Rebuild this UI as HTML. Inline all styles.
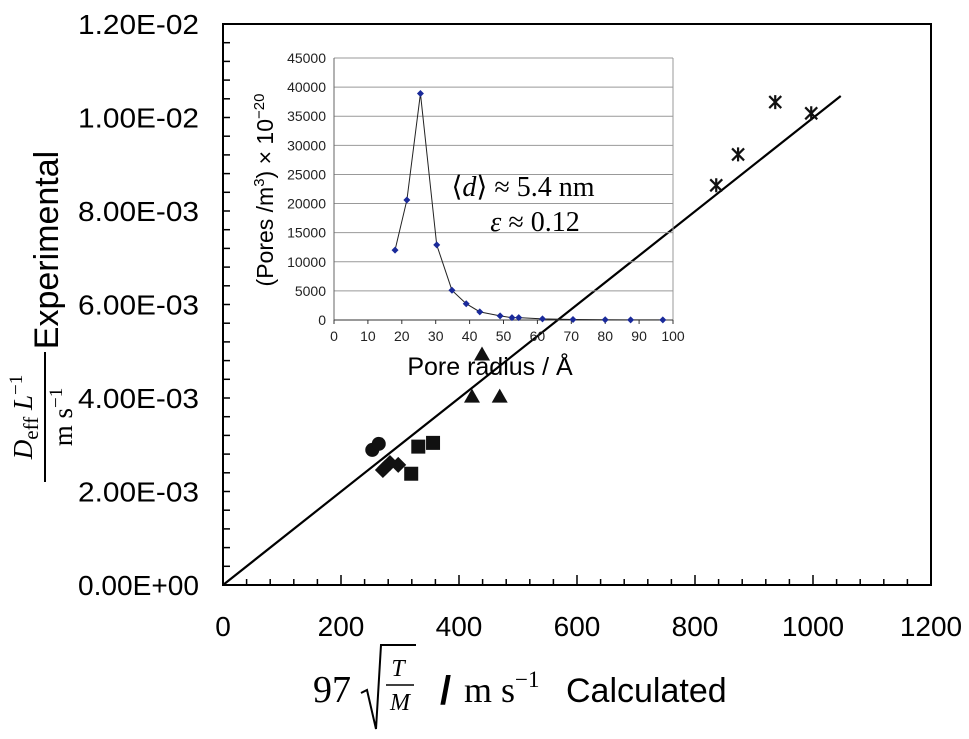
<!DOCTYPE html>
<html><head><meta charset="utf-8"><style>
html,body{margin:0;padding:0;background:#fff;}
svg{display:block;}
text{font-family:"Liberation Sans",Arial,sans-serif;}
.serif{font-family:"Liberation Serif","DejaVu Serif",serif;}
</style></head><body>
<svg id="chart" width="969" height="739" viewBox="0 0 969 739" xmlns="http://www.w3.org/2000/svg">
<g id="main"></g>
<g id="inset"></g>
<g transform="translate(42,330) rotate(-90)">
  <text x="80" y="16" font-size="34" text-anchor="middle">Experimental</text>
  <line x1="-152" y1="3" x2="-22" y2="3" stroke="#000" stroke-width="2"/>
  <text x="-87" y="-10" class="serif" font-size="27" text-anchor="middle" font-style="italic">D<tspan font-style="normal" font-size="21" dy="6">eff</tspan><tspan dy="-6"> L</tspan><tspan font-style="normal" font-size="19" dy="-10">−1</tspan></text>
  <text x="-87" y="30" class="serif" font-size="27" text-anchor="middle">m s<tspan font-size="19" dy="-10">−1</tspan></text>
</g>
<g>
  <text x="313" y="702" class="serif" font-size="38">97</text>
  <polyline points="361,693 367,690 376,729 381,645 416,645" fill="none" stroke="#000" stroke-width="2"/>
  <text x="398" y="676" class="serif" font-size="24" font-style="italic" text-anchor="middle">T</text>
  <line x1="386" y1="685" x2="414" y2="685" stroke="#000" stroke-width="1.5"/>
  <text x="400" y="710" class="serif" font-size="24" font-style="italic" text-anchor="middle">M</text>
  <text x="440" y="704" font-size="40" font-weight="bold">/</text>
  <text x="464" y="702" class="serif" font-size="36">m s<tspan font-size="23" dy="-15">−1</tspan></text>
  <text x="566" y="702" font-size="34">Calculated</text>
</g>
</svg>
<script>
// Main chart data
const circleX=[253,264];
const circleY=[0.00289,0.00302];
const diamondX=[271,275,283,297];
const diamondY=[0.00246,0.00251,0.00261,0.00257];
const squareX=[319,331,356];
const squareY=[0.00238,0.00296,0.00304];
const triangleX=[422,439,469];
const triangleY=[0.00403,0.00493,0.00403];
const starX=[836,873,936,997];
const starY=[0.00855,0.00921,0.01033,0.01009];
const fitX=[0,1047];
const fitY=[0,0.01046];
const xTicks=[0,200,400,600,800,1000,1200];
const yTicks=[0,0.002,0.004,0.006,0.008,0.010,0.012];
const yTickLabels=["0.00E+00","2.00E-03","4.00E-03","6.00E-03","8.00E-03","1.00E-02","1.20E-02"];
// Inset data
const poreR=[18,21.5,25.5,30.3,34.8,39,43,49,52.5,54.5,61.5,70.5,80,87.5,97];
const poreN=[12000,20600,38900,12900,5100,2800,1400,700,400,400,200,80,50,30,20];
const insetXTicks=[0,10,20,30,40,50,60,70,80,90,100];
const insetYTicks=[0,5000,10000,15000,20000,25000,30000,35000,40000,45000];

const NS="http://www.w3.org/2000/svg";
function mk(tag,attrs,parent){const e=document.createElementNS(NS,tag);for(const k in attrs)e.setAttribute(k,attrs[k]);parent.appendChild(e);return e;}
const X0=223,X1=931,Y0=585,Y1=24;
const sx=v=>X0+(v/1200)*(X1-X0);
const sy=v=>Y0-(v/0.012)*(Y0-Y1);
const main=document.getElementById('main');
let r=mk('rect',{x:X0,y:Y1,width:X1-X0,height:Y0-Y1,fill:'none',stroke:'#000','stroke-width':2},main);


for(let v=0;v<=1200.1;v+=40){const x=sx(v);const major=Math.abs(v%200)<0.01;mk('line',{x1:x,y1:Y0,x2:x,y2:Y0-(major?10:6),stroke:'#000','stroke-width':1.5},main);}
for(let v=0;v<=0.01201;v+=0.0004){const y=sy(v);mk('line',{x1:X0,y1:y,x2:X0+7,y2:y,stroke:'#000','stroke-width':1.5},main);}
xTicks.forEach(v=>{const t=mk('text',{x:sx(v),y:636,'font-size':28,'text-anchor':'middle'},main);t.textContent=v;

});
yTicks.forEach((v,i)=>{const t=mk('text',{x:199,y:sy(v)+10,'font-size':28,'text-anchor':'end',textLength:121,lengthAdjust:'spacingAndGlyphs'},main);t.textContent=yTickLabels[i];

});
let fl=mk('line',{x1:sx(fitX[0]),y1:sy(fitY[0]),x2:sx(fitX[1]),y2:sy(fitY[1]),stroke:'#000','stroke-width':2.2},main);


circleX.forEach((v,i)=>{const c=mk('circle',{cx:sx(v),cy:sy(circleY[i]),r:7,fill:'#111'},main);

});
diamondX.forEach((v,i)=>{const x=sx(v),y=sy(diamondY[i]);const d=mk('polygon',{points:`${x},${y-8} ${x+8},${y} ${x},${y+8} ${x-8},${y}`,fill:'#111'},main);

});
squareX.forEach((v,i)=>{const x=sx(v),y=sy(squareY[i]);const s=mk('rect',{x:x-7,y:y-7,width:14,height:14,fill:'#111'},main);

});
triangleX.forEach((v,i)=>{const x=sx(v),y=sy(triangleY[i]);const s=mk('polygon',{points:`${x},${y-8} ${x+8},${y+6} ${x-8},${y+6}`,fill:'#111'},main);

});
starX.forEach((v,i)=>{const x=sx(v),y=sy(starY[i]);const g=mk('path',{d:`M${x-6},${y-6}L${x+6},${y+6}M${x-6},${y+6}L${x+6},${y-6}M${x},${y-7}L${x},${y+7}`,stroke:'#111','stroke-width':2.2,fill:'none'},main);

});

// Inset
const ix0=334,ix1=673,iy0=320,iy1=58;
const ix=v=>ix0+(v/100)*(ix1-ix0);
const iy=v=>iy0-(v/45000)*(iy0-iy1);
const ins=document.getElementById('inset');
insetYTicks.forEach(v=>{mk('line',{x1:ix0,y1:iy(v),x2:ix1,y2:iy(v),stroke:'#999','stroke-width':1},ins);
const t=mk('text',{x:ix0-8,y:iy(v)+5,'font-size':14,'text-anchor':'end',fill:'#222'},ins);t.textContent=v;

});
mk('line',{x1:ix1,y1:iy1,x2:ix1,y2:iy0,stroke:'#999','stroke-width':1},ins);
mk('line',{x1:ix0,y1:iy1,x2:ix0,y2:iy0,stroke:'#666','stroke-width':1},ins);
mk('line',{x1:ix0,y1:iy0,x2:ix1,y2:iy0,stroke:'#333','stroke-width':1},ins);
insetXTicks.forEach(v=>{mk('line',{x1:ix(v),y1:iy0,x2:ix(v),y2:iy0+4,stroke:'#333'},ins);
const t=mk('text',{x:ix(v),y:341,'font-size':14,'text-anchor':'middle',fill:'#222'},ins);t.textContent=v;

});
let pl=mk('polyline',{points:poreR.map((v,i)=>ix(v)+','+iy(poreN[i])).join(' '),fill:'none',stroke:'#222','stroke-width':1},ins);


poreR.forEach((v,i)=>{const x=ix(v),y=iy(poreN[i]);const d=mk('polygon',{points:`${x},${y-3.5} ${x+3.5},${y} ${x},${y+3.5} ${x-3.5},${y}`,fill:'#1a2a9a'},ins);

});
let it=mk('text',{x:490,y:375,'font-size':25,'text-anchor':'middle'},ins);it.textContent='Pore radius / Å';


let yt=mk('text',{x:0,y:0,'font-size':23,'text-anchor':'middle',transform:'translate(273,190) rotate(-90)'},ins);
yt.innerHTML='(Pores /m<tspan font-size="15" dy="-9">3</tspan><tspan dy="9">) × 10</tspan><tspan font-size="15" dy="-9">−20</tspan>';


let a1=mk('text',{x:523,y:196,'font-size':28,'text-anchor':'middle',class:'serif'},ins);a1.innerHTML='⟨<tspan font-style="italic">d</tspan>⟩ ≈ 5.4 nm';


let a2=mk('text',{x:535,y:231,'font-size':28,'text-anchor':'middle',class:'serif'},ins);a2.innerHTML='<tspan font-style="italic">ε</tspan> ≈ 0.12';


</script>
</body></html>
